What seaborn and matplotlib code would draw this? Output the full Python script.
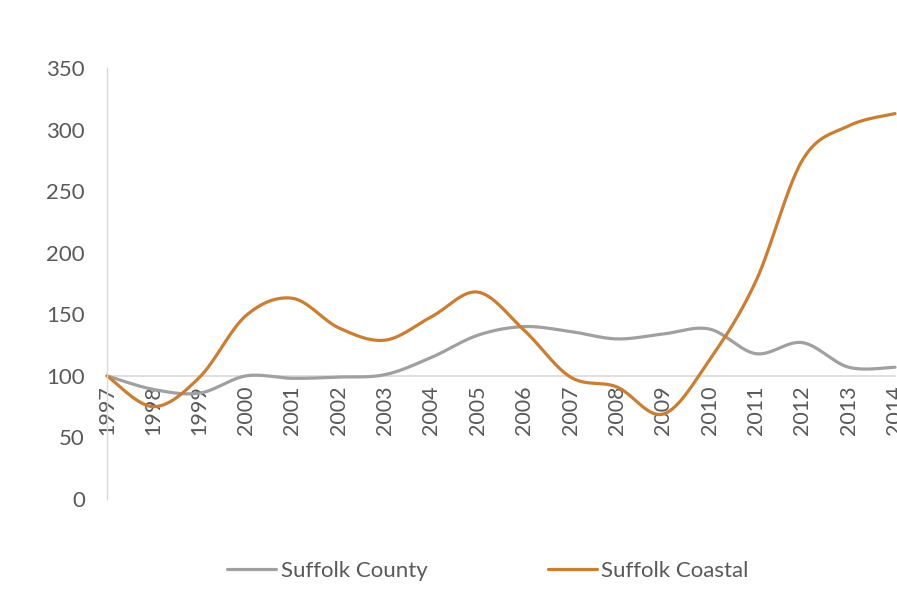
import numpy as np
import pandas as pd
import matplotlib
matplotlib.use("Agg")
import matplotlib.pyplot as plt
import seaborn as sns
from matplotlib.lines import Line2D

years = list(range(1997, 2015))
suffolk_county = [100, 89, 86, 100, 98, 99, 101, 115, 133, 140, 136, 130, 134, 138, 118, 127, 107, 107]
suffolk_coastal = [100, 75, 99, 149, 163, 139, 129, 148, 168, 137, 99, 91, 69, 113, 177, 275, 303, 313]
series_names = ["Suffolk County", "Suffolk Coastal"]
colors = ["#a0a0a0", "#cc7d30"]
yticks = [0, 50, 100, 150, 200, 250, 300, 350]


def smooth(xs, ys, n=30):
    """Excel-like smoothed line (Bezier through points, Catmull-Rom tangents)."""
    P = np.column_stack([xs, ys]).astype(float)
    Pext = np.vstack([P[0], P, P[-1]])
    out = []
    t = np.linspace(0, 1, n)[:, None]
    for i in range(len(P) - 1):
        p0, p1, p2, p3 = Pext[i], Pext[i + 1], Pext[i + 2], Pext[i + 3]
        b1 = p1 + (p2 - p0) / 6
        b2 = p2 - (p3 - p1) / 6
        seg = ((1 - t) ** 3) * p1 + 3 * ((1 - t) ** 2) * t * b1 + 3 * (1 - t) * t ** 2 * b2 + t ** 3 * p2
        out.append(seg if i == 0 else seg[1:])
    s = np.vstack(out)
    return s[:, 0], s[:, 1]


frames = []
for name, vals in zip(series_names, [suffolk_county, suffolk_coastal]):
    sx, sy = smooth(years, vals)
    frames.append(pd.DataFrame({"x": sx, "y": sy, "series": name}))
df = pd.concat(frames, ignore_index=True)

sns.set_style("white")
plt.rcParams["font.family"] = ["Lato", "DejaVu Sans"]

fig = plt.figure(figsize=(8.97, 6.06), dpi=100)
ax = fig.add_axes([107 / 897, 1 - 499 / 606, (895 - 107) / 897, (499 - 68) / 606])

sns.lineplot(data=df, x="x", y="y", hue="series", palette=colors, sort=False,
             estimator=None, linewidth=2.3, ax=ax, legend=False)
for line in ax.lines:
    line.set_clip_on(False)
    line.set_solid_capstyle("round")

ax.set_xlim(1997, 2014)
ax.set_ylim(0, 350)
ax.set_yticks(yticks)
ax.set_yticklabels([str(v) for v in yticks])
ax.set_xticks(years)
ax.set_xticklabels([str(y) for y in years])
ax.set_xlabel("")
ax.set_ylabel("")

for s in ["top", "right"]:
    ax.spines[s].set_visible(False)
ax.spines["left"].set_color("#d9d9d9")
ax.spines["left"].set_linewidth(1.0)
ax.spines["bottom"].set_position(("data", 100))
ax.spines["bottom"].set_color("#d9d9d9")
ax.spines["bottom"].set_linewidth(1.2)
ax.spines["bottom"].set_zorder(0.5)

ax.tick_params(axis="y", length=0, pad=16, labelsize=16, labelcolor="#595959")
ax.tick_params(axis="x", direction="out", length=4, width=1, color="#d9d9d9",
               pad=3, labelsize=15.5, labelcolor="#595959", labelrotation=90)

handles = [Line2D([], [], color=c, linewidth=2.3) for c in colors]
fig.legend(handles, series_names, loc="center", bbox_to_anchor=(488 / 897, 1 - 571 / 606),
           ncol=2, frameon=False, fontsize=16, labelcolor="#595959",
           handlelength=2.2, handletextpad=0.22, columnspacing=5.4)

fig.savefig("out.png", dpi=100, facecolor="white")
